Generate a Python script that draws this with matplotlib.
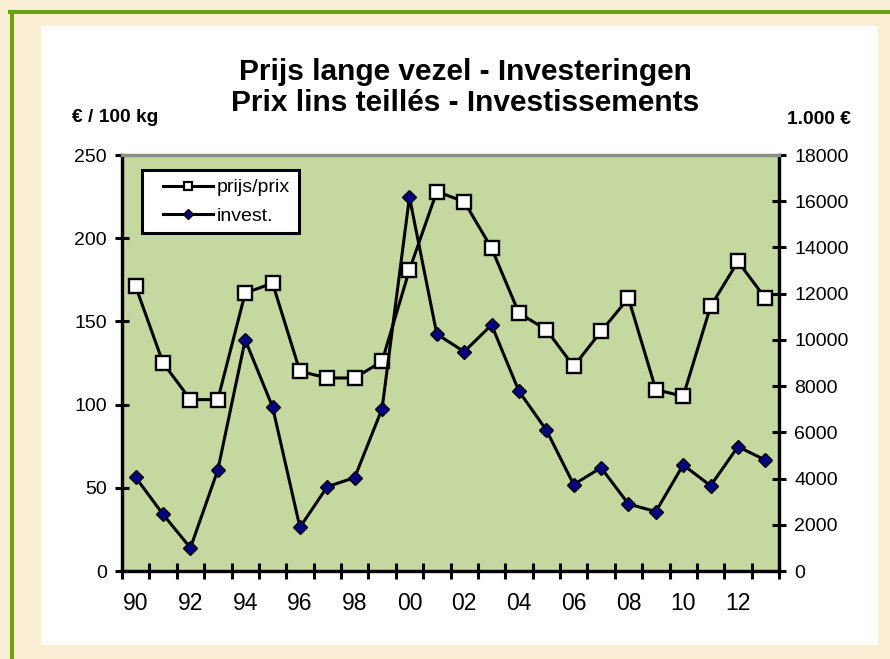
import matplotlib

matplotlib.use("Agg")
import matplotlib.pyplot as plt
from matplotlib.legend_handler import HandlerLine2D
from matplotlib.lines import Line2D
from matplotlib.patches import Rectangle
from matplotlib.ticker import FixedLocator, MultipleLocator

plt.rcParams["font.family"] = ["Liberation Sans", "DejaVu Sans"]

# --- data ---
years = list(range(1990, 2014))
year_labels = ["90", "92", "94", "96", "98", "00", "02", "04", "06", "08", "10", "12"]
prijs = [171, 125, 103, 103, 167, 173, 120, 116, 116, 126, 181, 228,
         222, 194, 155, 145, 123, 144, 164, 109, 105, 159, 186, 164]
invest = [4050, 2450, 1000, 4370, 10000, 7100, 1890, 3650, 4040, 7020, 16180, 10250,
          9490, 10650, 7780, 6100, 3740, 4470, 2900, 2570, 4590, 3690, 5380, 4800]

W, H = 890, 659
BEIGE = "#FAEFD4"
PLOT_GREEN = "#C4D8A0"
NAVY = "#000080"
FRAME_GREEN = "#6BA20E"

fig = plt.figure(figsize=(W / 100, H / 100), dpi=100)
fig.patch.set_facecolor(BEIGE)


def fx(px):
    return px / W


def fy(py):
    return 1 - py / H


# white card and green frame (behind the axes)
fig.patches.append(Rectangle((fx(41), fy(645)), fx(878) - fx(41), fy(26) - fy(645),
                             transform=fig.transFigure, facecolor="white",
                             edgecolor="none", zorder=-2))
fig.lines.append(Line2D([fx(11.5), fx(11.5)], [fy(11.5), 0], transform=fig.transFigure,
                        color=FRAME_GREEN, lw=2.9, zorder=-2))
fig.lines.append(Line2D([fx(10), 1], [fy(11.5), fy(11.5)], transform=fig.transFigure,
                        color=FRAME_GREEN, lw=2.9, zorder=-2))

ax = fig.add_axes([fx(122), fy(571), fx(779) - fx(122), fy(155) - fy(571)])
ax.set_facecolor(PLOT_GREEN)
ax2 = ax.twinx()
ax2.patch.set_visible(False)

x = list(range(len(years)))
ax.plot(x, prijs, color="black", lw=2.2, marker="s", ms=9.8,
        mfc="white", mec="black", mew=1.7, zorder=3)
ax2.plot(x, invest, color="black", lw=2.2, marker="D", ms=7.2,
         mfc=NAVY, mec="black", mew=1.0, zorder=3)

ax.set_xlim(-0.5, len(years) - 0.5)
ax.set_ylim(0, 250)
ax2.set_ylim(0, 18000)

ax.yaxis.set_major_locator(MultipleLocator(50))
ax2.yaxis.set_major_locator(MultipleLocator(2000))
ax.xaxis.set_major_locator(FixedLocator(x[::2]))
ax.set_xticklabels(year_labels)
ax.xaxis.set_minor_locator(FixedLocator([i - 0.5 for i in range(len(years) + 1)]))

ax.tick_params(axis="x", which="major", length=0, pad=15, labelsize=16.5)
ax.tick_params(axis="x", which="minor", direction="inout", length=11, width=2.2)
ax.tick_params(axis="y", direction="inout", length=10, width=2.2, pad=6, labelsize=14)
ax2.tick_params(axis="y", direction="inout", length=10, width=2.2, pad=6, labelsize=14)

for a in (ax, ax2):
    for side in ("left", "right", "bottom"):
        a.spines[side].set_linewidth(2.3)
        a.spines[side].set_color("black")
    a.spines["top"].set_color("#8C8C8C")
    a.spines["top"].set_linewidth(2.3)

# legend with small markers, like the spreadsheet one
h_prijs = Line2D([], [], color="black", lw=2.2, marker="s", ms=5.5,
                 mfc="white", mec="black", mew=1.6)
h_invest = Line2D([], [], color="black", lw=2.2, marker="D", ms=5.0,
                  mfc=NAVY, mec="black", mew=1.0)
pad_handler = HandlerLine2D(xpad=0.64)
leg = ax2.legend([h_prijs, h_invest], ["prijs/prix", "invest."], loc="upper left",
                 bbox_to_anchor=(19.7 / 657, 1 - 15 / 416),
                 handler_map={h_prijs: pad_handler, h_invest: pad_handler},
                 fontsize=14, frameon=True, fancybox=False, handlelength=3.21,
                 borderpad=0.45, labelspacing=0.55, handletextpad=0.2,
                 borderaxespad=0, framealpha=1)
leg.get_frame().set_edgecolor("black")
leg.get_frame().set_linewidth(2.2)
leg.set_zorder(5)

fig.text(fx(465), fy(72), "Prijs lange vezel - Investeringen", ha="center", va="center",
         fontsize=21.5, fontweight="bold")
fig.text(fx(465), fy(103), "Prix lins teillés - Investissements", ha="center", va="center",
         fontsize=21.5, fontweight="bold")
fig.text(fx(72), fy(117), "€ / 100 kg", ha="left", va="center", fontsize=13.8,
         fontweight="bold")
fig.text(fx(851), fy(120), "1.000 €", ha="right", va="center", fontsize=13.8,
         fontweight="bold")

fig.savefig("out.png", dpi=100, facecolor=fig.get_facecolor())
